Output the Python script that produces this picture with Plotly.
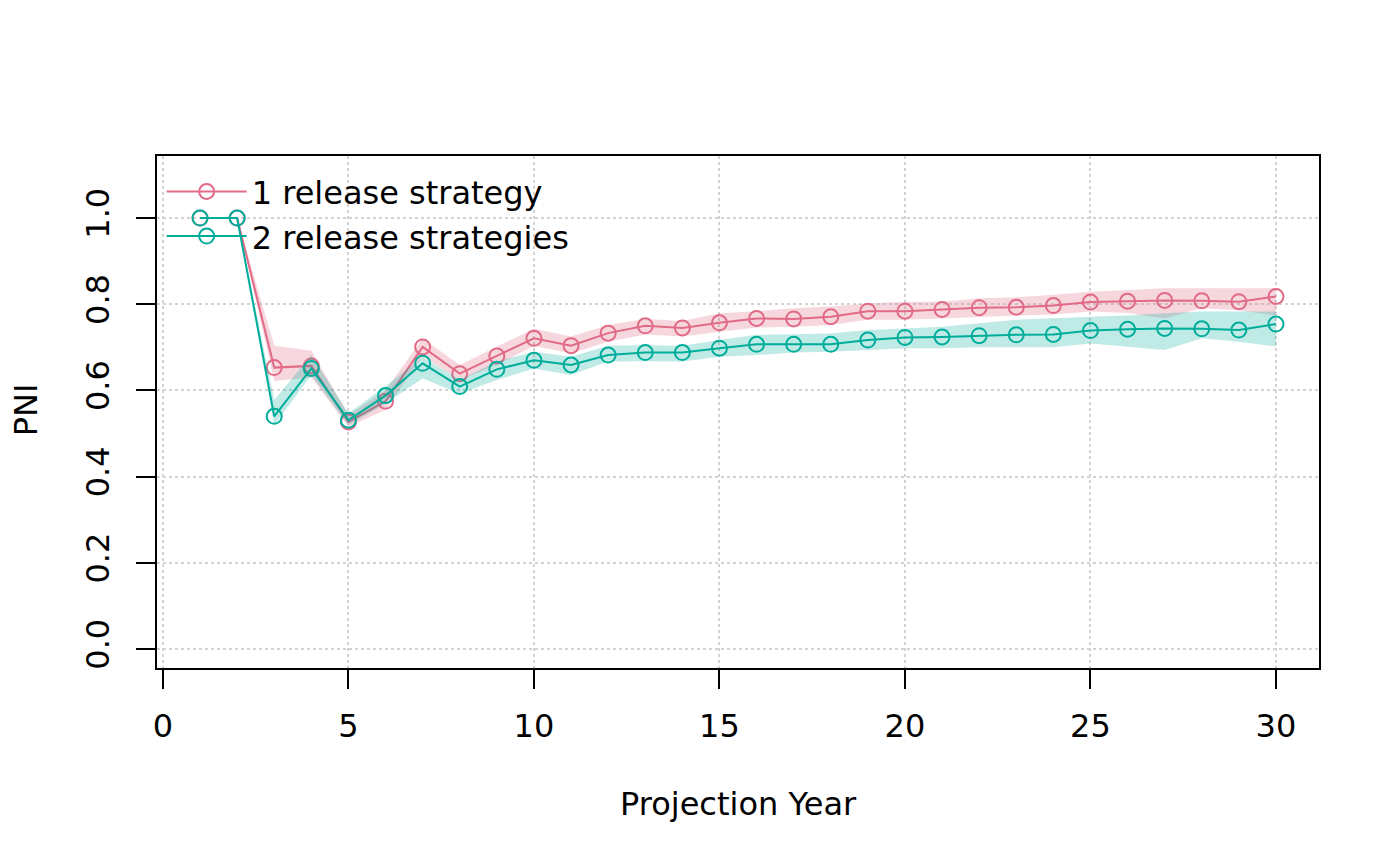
import plotly.graph_objects as go

# projection years and PNI values
years = list(range(1, 31))

pni_1 = [1.0, 1.0, 0.653, 0.657, 0.527, 0.575, 0.701, 0.639, 0.680, 0.721,
         0.704, 0.733, 0.750, 0.745, 0.757, 0.767, 0.766, 0.771, 0.784, 0.784,
         0.788, 0.792, 0.793, 0.797, 0.805, 0.807, 0.809, 0.808, 0.806, 0.818]
lo_1 = [1.0, 1.0, 0.622, 0.630, 0.516, 0.555, 0.680, 0.624, 0.659, 0.704,
        0.686, 0.713, 0.730, 0.725, 0.736, 0.746, 0.748, 0.752, 0.764, 0.764,
        0.767, 0.771, 0.774, 0.776, 0.783, 0.780, 0.767, 0.791, 0.786, 0.774]
hi_1 = [1.0, 1.0, 0.704, 0.692, 0.543, 0.600, 0.721, 0.659, 0.702, 0.743,
        0.725, 0.752, 0.766, 0.761, 0.779, 0.784, 0.791, 0.795, 0.802, 0.806,
        0.806, 0.814, 0.816, 0.822, 0.829, 0.833, 0.837, 0.837, 0.837, 0.837]

pni_2 = [1.0, 1.0, 0.540, 0.651, 0.531, 0.588, 0.663, 0.609, 0.649, 0.670,
         0.659, 0.682, 0.688, 0.688, 0.698, 0.707, 0.707, 0.707, 0.717, 0.723,
         0.724, 0.727, 0.729, 0.730, 0.739, 0.742, 0.744, 0.743, 0.740, 0.754]
lo_2 = [1.0, 1.0, 0.519, 0.636, 0.519, 0.570, 0.628, 0.593, 0.624, 0.651,
        0.636, 0.667, 0.668, 0.667, 0.678, 0.682, 0.688, 0.690, 0.694, 0.698,
        0.698, 0.700, 0.700, 0.700, 0.709, 0.702, 0.694, 0.721, 0.713, 0.702]
hi_2 = [1.0, 1.0, 0.578, 0.682, 0.547, 0.610, 0.678, 0.625, 0.667, 0.690,
        0.678, 0.704, 0.705, 0.704, 0.717, 0.729, 0.730, 0.732, 0.740, 0.744,
        0.748, 0.756, 0.764, 0.767, 0.771, 0.774, 0.779, 0.783, 0.783, 0.783]

names = ["1 release strategy", "2 release strategies"]
x_ticks = [0, 5, 10, 15, 20, 25, 30]
y_ticks = [0.0, 0.2, 0.4, 0.6, 0.8, 1.0]

red = "#E16A86"
teal = "#00AD9A"
font = "DejaVu Sans"
fsize = 32

fig = go.Figure()

for mid, lo, hi, col, fill, name in [
    (pni_1, lo_1, hi_1, red, "rgba(225,106,134,0.27)", names[0]),
    (pni_2, lo_2, hi_2, teal, "rgba(0,173,154,0.25)", names[1]),
]:
    # uncertainty band as a closed polygon
    fig.add_trace(go.Scatter(
        x=years + years[::-1], y=lo + hi[::-1],
        fill="toself", fillcolor=fill, line=dict(width=0),
        mode="lines", showlegend=False, hoverinfo="skip"))
    fig.add_trace(go.Scatter(
        x=years, y=mid, name=name, mode="lines+markers",
        line=dict(color=col, width=2),
        marker=dict(symbol="circle-open", size=15, color=col, line=dict(width=2))))

axis_common = dict(
    showline=True, mirror=True, linecolor="black", linewidth=1.5,
    ticks="outside", ticklen=19, tickwidth=1.5, tickcolor="black",
    showgrid=True, gridcolor="#D3D3D3", griddash="dot", gridwidth=1.5,
    zeroline=False, tickfont=dict(family=font, size=fsize, color="black"),
)

fig.update_xaxes(range=[-0.16, 31.16], tickvals=x_ticks, ticklabelstandoff=10, **axis_common)
fig.update_yaxes(range=[-0.044, 1.144], tickvals=y_ticks, tickformat=".1f",
                 tickangle=-90, ticklabelstandoff=14, **axis_common)

fig.add_annotation(text="Projection Year", xref="paper", yref="paper",
                   x=0.5, y=-0.266, showarrow=False, yanchor="middle",
                   font=dict(family=font, size=fsize, color="black"))
fig.add_annotation(text="PNI", xref="paper", yref="paper", textangle=-90,
                   x=-0.112, y=0.505, showarrow=False, xanchor="center",
                   borderpad=0,
                   font=dict(family=font, size=fsize, color="black"))

# page body has an 8px margin, so the plot area is shifted back by that much
fig.update_layout(
    width=1400, height=865,
    margin=dict(l=149, r=89, t=148, b=205),
    plot_bgcolor="white", paper_bgcolor="white",
    font=dict(family=font, color="black"),
    legend=dict(x=0.004, y=0.984, xanchor="left", yanchor="top",
                bgcolor="rgba(0,0,0,0)", itemwidth=80,
                font=dict(family=font, size=fsize, color="black"),
                tracegroupgap=0),
    showlegend=True,
)

fig.write_html("out.html")
